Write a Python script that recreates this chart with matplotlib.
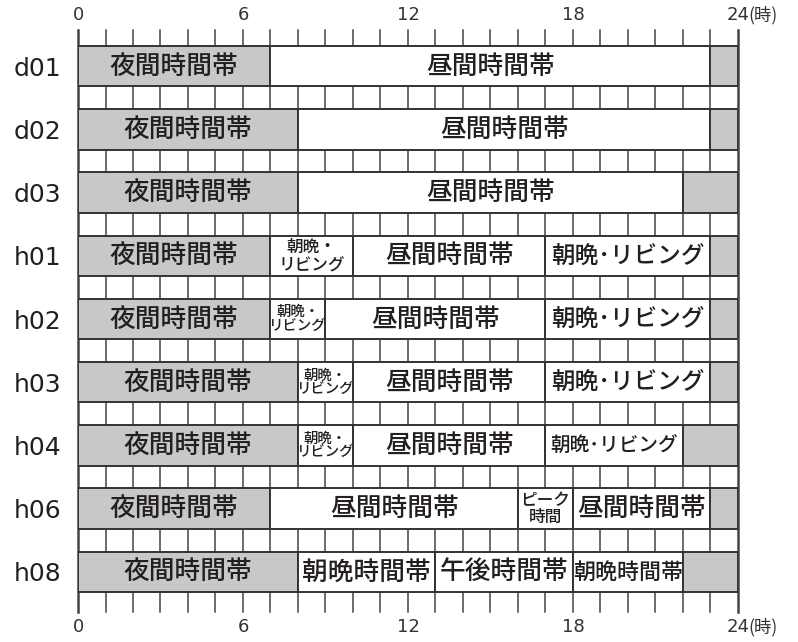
import matplotlib
matplotlib.use('Agg')
import matplotlib.pyplot as plt
from matplotlib.transforms import blended_transform_factory

plt.rcParams['font.family'] = ['DejaVu Sans', 'Noto Sans CJK JP']

# 行ラベル
rows = ['d01', 'd02', 'd03', 'h01', 'h02', 'h03', 'h04', 'h06', 'h08']

# 各行の区切り時刻（時）
bounds = [
    [0, 7, 23, 24],
    [0, 8, 23, 24],
    [0, 8, 22, 24],
    [0, 7, 10, 17, 23, 24],
    [0, 7, 9, 17, 23, 24],
    [0, 8, 10, 17, 23, 24],
    [0, 8, 10, 17, 22, 24],
    [0, 7, 16, 18, 23, 24],
    [0, 8, 13, 18, 22, 24],
]

# 各区間の名前（空文字は灰色の余白）
labels = [
    ['夜間時間帯', '昼間時間帯', ''],
    ['夜間時間帯', '昼間時間帯', ''],
    ['夜間時間帯', '昼間時間帯', ''],
    ['夜間時間帯', '朝晩・\nリビング', '昼間時間帯', '朝晩･リビング', ''],
    ['夜間時間帯', '朝晩・\nリビング', '昼間時間帯', '朝晩･リビング', ''],
    ['夜間時間帯', '朝晩・\nリビング', '昼間時間帯', '朝晩･リビング', ''],
    ['夜間時間帯', '朝晩・\nリビング', '昼間時間帯', '朝晩･リビング', ''],
    ['夜間時間帯', '昼間時間帯', 'ピーク\n時間', '昼間時間帯', ''],
    ['夜間時間帯', '朝晩時間帯', '午後時間帯', '朝晩時間帯', ''],
]

hour_ticks = [0, 6, 12, 18, 24]

GRAY = '#c8c8ca'
EDGE = '#333333'
TXT = '#231f20'
JP = ['Noto Sans CJK JP', 'DejaVu Sans']

fig = plt.figure(figsize=(7.98, 6.42), dpi=100)
ax = fig.add_axes([78 / 798, 1 - 612 / 642, 660 / 798, 582 / 642])

bar_h = 0.64
ax.set_xlim(0, 24)
ax.set_ylim(8.32 + 20 / 63.75, -0.32 - 16 / 63.75)

# 1時間あたりのピクセル幅
px_per_hour = ax.transData.transform((1, 0))[0] - ax.transData.transform((0, 0))[0]

# 縦の目盛り線（帯の後ろ）
for h in range(25):
    lw = 1.8 if h in (0, 24) else 1.1
    ax.axvline(h, color='#444444', lw=lw, zorder=1, clip_on=False)


def font_size(label, hours):
    avail = hours * px_per_hour
    if '\n' in label:
        n = max(len(s) for s in label.split('\n'))
        return min(12.0, avail / n * 0.72 * 1.05)
    return min(18.5, avail / len(label) * 0.72)


for i, (b, labs) in enumerate(zip(bounds, labels)):
    for left, right, lab in zip(b[:-1], b[1:], labs):
        fill = GRAY if lab in ('夜間時間帯', '') else 'white'
        ax.barh(i, right - left, left=left, height=bar_h, color=fill,
                edgecolor=EDGE, linewidth=1.4, zorder=2)
        if lab:
            ax.text((left + right) / 2, i, lab, ha='center', va='center',
                    fontsize=font_size(lab, right - left), color=TXT,
                    fontweight='medium', linespacing=0.95, zorder=3,
                    family=JP)

# 行ラベル
ax.set_yticks(range(len(rows)))
ax.set_yticklabels(rows, fontsize=18, color=TXT)
ax.tick_params(axis='y', length=0, pad=12)
ax.set_xticks([])
for s in ax.spines.values():
    s.set_visible(False)

# 上下の時刻ラベル
tr = blended_transform_factory(ax.transData, ax.transAxes)
for yy in (1.026, -0.026):
    for h in hour_ticks:
        ax.text(h, yy, str(h), transform=tr, ha='center', va='center',
                fontsize=13, color='#333333')
    ax.text(24.36, yy, '(時)', transform=tr, ha='left', va='center',
            fontsize=12.5, color='#333333', family=JP)

fig.savefig('out.png', dpi=100)
